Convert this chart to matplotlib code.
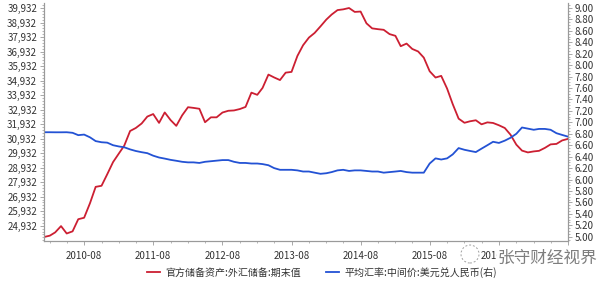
import pandas as pd
import matplotlib.pyplot as plt
import matplotlib.dates as mdates
import matplotlib.ticker as mticker
from matplotlib.lines import Line2D
from matplotlib.patches import Ellipse

plt.rcParams['font.family'] = ['Noto Sans CJK SC', 'DejaVu Sans']

# 月度数据 2010-01 ~ 2017-08
fechas = pd.date_range('2010-01-01', '2017-08-01', freq='MS')

# 官方储备资产:外汇储备:期末值 (亿美元)
reservas = [
    24153, 24247, 24471, 24905, 24395, 24543, 25380, 25480, 26483, 27609, 27683, 28473,
    29317, 29914, 30447, 31458, 31664, 31975, 32452, 32625, 32017, 32738, 32209, 31811,
    32536, 33097, 33050, 32989, 32061, 32400, 32399, 32730, 32851, 32874, 32971, 33116,
    34100, 33950, 34426, 35345, 35148, 34967, 35478, 35530, 36627, 37366, 37895, 38213,
    38666, 39137, 39481, 39788, 39839, 39932, 39663, 39688, 38877, 38529, 38473, 38430,
    38134, 38015, 37300, 37481, 37111, 36938, 36513, 35574, 35141, 35255, 34383, 33304,
    32309, 32023, 32126, 32197, 31917, 32052, 32011, 31852, 31664, 31206, 30516, 30105,
    29982, 30051, 30091, 30295, 30536, 30568, 30807, 30915,
]

# 平均汇率:中间价:美元兑人民币
tipo_cambio = [
    6.827, 6.827, 6.826, 6.826, 6.827, 6.817, 6.776, 6.786, 6.738, 6.672, 6.652, 6.645,
    6.600, 6.578, 6.564, 6.527, 6.499, 6.478, 6.461, 6.417, 6.385, 6.366, 6.344, 6.328,
    6.310, 6.300, 6.300, 6.290, 6.310, 6.320, 6.330, 6.340, 6.340, 6.310, 6.290, 6.290,
    6.280, 6.280, 6.270, 6.250, 6.200, 6.170, 6.170, 6.170, 6.160, 6.140, 6.140, 6.120,
    6.100, 6.110, 6.130, 6.160, 6.170, 6.150, 6.160, 6.160, 6.150, 6.140, 6.140, 6.120,
    6.130, 6.140, 6.150, 6.130, 6.120, 6.120, 6.120, 6.280, 6.370, 6.350, 6.370, 6.440,
    6.550, 6.520, 6.500, 6.480, 6.540, 6.600, 6.660, 6.640, 6.680, 6.730, 6.800, 6.910,
    6.890, 6.870, 6.885, 6.885, 6.870, 6.810, 6.780, 6.750,
]

etiqueta_izq = '官方储备资产:外汇储备:期末值'
etiqueta_der = '平均汇率:中间价:美元兑人民币(右)'

rojo = '#cc1f32'
azul = '#2352d4'
gris = '#9a9a9a'
texto = '#333333'

fig = plt.figure(figsize=(6.02, 2.82), dpi=100)
ax = fig.add_axes([44 / 602, 1 - 241 / 282, 524 / 602, 238 / 282])
ax2 = ax.twinx()

ax.plot(fechas, reservas, color=rojo, linewidth=1.3)
ax2.plot(fechas, tipo_cambio, color=azul, linewidth=1.3)

ax.set_xlim(fechas[0], fechas[-1])
ax.set_ylim(23878, 40277)
ax2.set_ylim(4.925, 9.087)

ax.yaxis.set_major_locator(mticker.FixedLocator([24932 + 1000 * k for k in range(16)]))
ax.yaxis.set_minor_locator(mticker.FixedLocator([24932 + 200 * k - 1000 for k in range(85)]))
ax.yaxis.set_major_formatter(mticker.FuncFormatter(lambda v, p: f'{v:,.0f}'))
ax2.yaxis.set_major_locator(mticker.MultipleLocator(0.2))
ax2.yaxis.set_minor_locator(mticker.MultipleLocator(0.05))
ax2.yaxis.set_major_formatter(mticker.FormatStrFormatter('%.2f'))

ax.xaxis.set_major_locator(mdates.MonthLocator(bymonth=8))
ax.xaxis.set_minor_locator(mdates.MonthLocator(bymonth=[2, 5, 8, 11]))
ax.xaxis.set_major_formatter(mdates.DateFormatter('%Y-%m'))

for a in (ax, ax2):
    a.spines['top'].set_visible(False)
    for s in ('left', 'right', 'bottom'):
        a.spines[s].set_color(gris)
        a.spines[s].set_linewidth(0.8)
    a.tick_params(which='major', length=3, width=0.6, color=gris, labelsize=7, labelcolor=texto, pad=2)
    a.tick_params(which='minor', length=1.5, width=0.5, color=gris)
ax.tick_params(axis='x', which='major', pad=4)

handles = [Line2D([], [], color=rojo, linewidth=1.3), Line2D([], [], color=azul, linewidth=1.3)]
fig.legend(handles, [etiqueta_izq, etiqueta_der], loc='center', bbox_to_anchor=(0.535, 0.035),
           ncol=2, frameon=False, fontsize=7.2, handlelength=1.3, columnspacing=2.5,
           handletextpad=0.5, labelcolor=texto)

# 水印 (盖住 2016-08 标签, 与原图一致)
fig.text(597 / 602, 1 - 258 / 282, '张守财经视界', ha='right', va='center', fontsize=12, color='#7e7e7e',
         bbox=dict(facecolor='white', edgecolor='none', pad=0.5), zorder=10)
fig.patches.append(Ellipse((470 / 602, 1 - 254 / 282), 18 / 602, 18 / 282, transform=fig.transFigure,
                           fill=False, edgecolor='#a0a0a0', linestyle=(0, (2, 2)), linewidth=0.7))

fig.savefig('out.png', dpi=100)
